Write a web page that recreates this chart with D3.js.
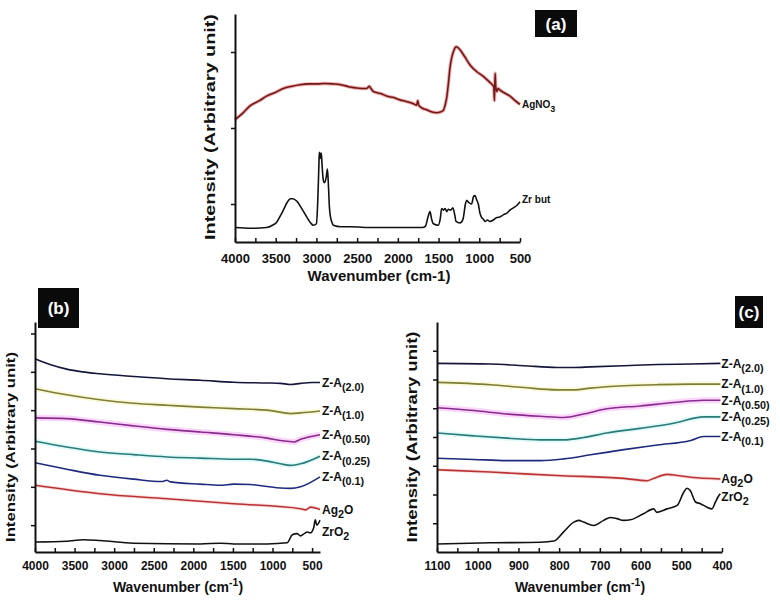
<!DOCTYPE html>
<html><head><meta charset="utf-8">
<script src="https://cdn.jsdelivr.net/npm/d3@7"></script>
<style>body{margin:0;background:#fff}svg{display:block}</style>
</head><body>
<svg id="c" width="780" height="600"></svg>
<script>
// ---------- Panel (a) data ----------
const aTickLabels = [4000, 3500, 3000, 2500, 2000, 1500, 1000, 500];
const aMinorTicks = [3750, 3250, 2750, 2250, 1750, 1250, 750];
const aYTicks = [0.5, 1.5, 2.5];
const aAgNO3 = [[4000,1.61],[3900,1.70],[3816,1.79],[3700,1.86],[3611,1.92],[3500,1.97],[3406,2.02],[3300,2.05],[3202,2.07],[3100,2.08],[2997,2.08],[2900,2.085],[2792,2.08],[2700,2.07],[2588,2.04],[2450,2.02],[2383,2.02],[2350,2.05],[2330,2.02],[2301,1.98],[2200,1.95],[2137,1.92],[2050,1.90],[1974,1.87],[1900,1.85],[1810,1.82],[1770,1.80],[1755,1.86],[1745,1.80],[1700,1.76],[1646,1.74],[1580,1.71],[1523,1.70],[1480,1.71],[1442,1.73],[1420,1.80],[1400,1.90],[1380,2.08],[1360,2.29],[1340,2.42],[1319,2.50],[1300,2.55],[1286,2.57],[1265,2.56],[1237,2.53],[1180,2.44],[1114,2.33],[1030,2.24],[950,2.18],[880,2.11],[840,2.07],[822,2.04],[814,1.86],[806,2.22],[798,2.05],[785,1.98],[770,2.02],[746,2.00],[690,1.96],[623,1.92],[560,1.86],[500,1.81]];
const aZrBut = [[4000,0.19],[3800,0.18],[3611,0.19],[3540,0.22],[3488,0.26],[3440,0.35],[3406,0.42],[3360,0.52],[3320,0.57],[3290,0.57],[3243,0.54],[3180,0.44],[3120,0.33],[3070,0.25],[3038,0.22],[3000,0.24],[2985,0.5],[2970,1.0],[2965,1.18],[2955,1.10],[2950,1.16],[2940,1.17],[2930,1.0],[2915,0.81],[2900,0.78],[2880,0.85],[2865,0.96],[2855,0.80],[2840,0.45],[2833,0.37],[2810,0.26],[2792,0.22],[2700,0.20],[2588,0.2],[2300,0.19],[1974,0.19],[1700,0.19],[1660,0.21],[1630,0.33],[1605,0.40],[1585,0.30],[1564,0.24],[1503,0.22],[1480,0.30],[1462,0.44],[1440,0.42],[1420,0.44],[1400,0.40],[1380,0.43],[1350,0.42],[1325,0.45],[1300,0.35],[1286,0.27],[1237,0.25],[1200,0.30],[1170,0.50],[1155,0.55],[1130,0.52],[1094,0.50],[1070,0.60],[1053,0.61],[1030,0.55],[1012,0.50],[992,0.38],[970,0.32],[950,0.30],[930,0.27],[900,0.29],[870,0.27],[827,0.29],[790,0.32],[746,0.33],[700,0.36],[660,0.38],[623,0.42],[580,0.45],[540,0.48],[500,0.53]];

// ---------- Panel (b) data ----------
const bTickLabels = [4000, 3500, 3000, 2500, 2000, 1500, 1000, 500];
const bMinorTicks = [3750, 3250, 2750, 2250, 1750, 1250, 750];
const bYTicks = [0.7, 1.7, 2.7, 3.7, 4.7, 5.7];
const bZA20 = [[4000,5.04],[3810,4.89],[3600,4.77],[3400,4.70],[3180,4.65],[2755,4.58],[2333,4.52],[1911,4.48],[1489,4.43],[1068,4.41],[900,4.40],[772,4.37],[646,4.40],[500,4.42],[400,4.42]];
const bZA10 = [[4000,4.26],[3600,4.10],[3180,3.97],[2755,3.88],[2333,3.83],[1911,3.78],[1489,3.74],[1068,3.70],[850,3.63],[772,3.61],[646,3.63],[400,3.68]];
const bZA050 = [[4000,3.50],[3600,3.48],[3180,3.39],[2755,3.29],[2333,3.20],[1911,3.13],[1489,3.06],[1068,2.97],[900,2.91],[814,2.89],[730,2.87],[646,2.94],[400,3.06]];
const bZA025 = [[4000,2.89],[3600,2.74],[3180,2.61],[2755,2.54],[2333,2.48],[1911,2.45],[1489,2.42],[1278,2.42],[1068,2.37],[900,2.30],[772,2.26],[646,2.30],[400,2.50]];
const bZA01 = [[4000,2.33],[3600,2.16],[3180,2.0],[2755,1.90],[2400,1.84],[2333,1.87],[2290,1.83],[1911,1.77],[1660,1.74],[1489,1.77],[1278,1.76],[1068,1.71],[900,1.67],[772,1.66],[646,1.70],[400,1.96]];
const bAg2O = [[4000,1.74],[3180,1.52],[2333,1.39],[1489,1.26],[646,1.13],[580,1.10],[520,1.17],[460,1.15],[400,1.11]];
const bZrO2 = [[4000,0.26],[3600,0.28],[3390,0.32],[3180,0.30],[2755,0.23],[1911,0.21],[1660,0.23],[1489,0.21],[1068,0.21],[815,0.24],[750,0.45],[690,0.48],[646,0.42],[600,0.48],[560,0.52],[520,0.50],[480,0.63],[460,0.84],[440,0.70],[400,0.83]];

// ---------- Panel (c) data ----------
const cTickLabels = [1100, 1000, 900, 800, 700, 600, 500, 400];
const cMinorTicks = [1050, 950, 850, 750, 650, 550, 450];
const cYTicks = [0.5, 1, 1.5, 2, 2.5, 3, 3.5];
const cZA20 = [[1100,3.28],[969,3.27],[887,3.24],[805,3.21],[764,3.21],[723,3.22],[641,3.24],[559,3.26],[477,3.27],[404,3.28]];
const cZA10 = [[1100,2.95],[969,2.91],[887,2.86],[805,2.82],[764,2.82],[723,2.85],[641,2.89],[559,2.91],[477,2.92],[404,2.92]];
const cZA050 = [[1100,2.51],[1010,2.46],[928,2.40],[846,2.36],[789,2.34],[740,2.40],[683,2.49],[601,2.54],[519,2.60],[445,2.64],[404,2.64]];
const cZA025 = [[1100,2.07],[1010,2.02],[928,1.98],[846,1.95],[789,1.95],[740,1.99],[683,2.07],[601,2.15],[519,2.24],[445,2.35],[404,2.35]];
const cZA01 = [[1100,1.63],[1010,1.61],[928,1.59],[846,1.59],[789,1.62],[723,1.69],[641,1.78],[559,1.86],[477,1.94],[445,2.01],[404,2.01]];
const cAg2O = [[1100,1.43],[969,1.39],[805,1.33],[641,1.28],[584,1.24],[568,1.28],[535,1.35],[510,1.33],[477,1.30],[404,1.27]];
const cZrO2 = [[1100,0.14],[969,0.16],[846,0.17],[813,0.19],[789,0.35],[764,0.52],[752,0.55],[740,0.52],[715,0.46],[691,0.55],[674,0.60],[658,0.58],[642,0.55],[625,0.56],[592,0.67],[568,0.75],[560,0.69],[535,0.75],[510,0.81],[494,1.04],[486,1.11],[478,1.07],[465,0.87],[453,0.84],[437,0.78],[425,0.75],[416,0.87],[408,0.98],[404,1.01]];

// ---------- drawing ----------
const FONT = "'Liberation Sans', Arial, sans-serif";
const svg = d3.select("#c");
svg.append("rect").attr("width", 780).attr("height", 600).attr("fill", "#fff");

const STY = {
  agno3: {stroke: "#6e1a1a", glow: "#e03c3c", gw: 3.5, go: 0.45},
  zrbut: {stroke: "#111", glow: null},
  za20: {stroke: "#16163a", glow: null},
  za10: {stroke: "#7d7d38", glow: "#f2f0a0", gw: 5, go: 0.4},
  za050: {stroke: "#8a2a8e", glow: "#f28cf2", gw: 6, go: 0.35},
  za025: {stroke: "#2c7a78", glow: "#a8f2f0", gw: 5, go: 0.35},
  za01: {stroke: "#1e2a7c", glow: null},
  ag2o: {stroke: "#b83434", glow: "#f39090", gw: 3.5, go: 0.3},
  zro2: {stroke: "#111", glow: null}
};

function panel(cfg) {
  const x = d3.scaleLinear().domain(cfg.xDomain).range([cfg.left, cfg.right]);
  const y = d3.scaleLinear().domain(cfg.yDomain).range([cfg.bottom, cfg.top]);
  const g = svg.append("g");

  const line = d3.line().x(d => x(d[0])).y(d => y(d[1])).curve(d3.curveMonotoneX);
  cfg.series.forEach(s => {
    const st = STY[s.key];
    if (st.glow) {
      g.append("path").datum(s.data).attr("d", line).attr("fill", "none")
        .attr("stroke", st.glow).attr("stroke-width", st.gw).attr("stroke-opacity", st.go)
        .attr("stroke-linejoin", "round");
    }
    g.append("path").datum(s.data).attr("d", line).attr("fill", "none")
      .attr("stroke", st.stroke).attr("stroke-width", 1.6).attr("stroke-linejoin", "round");
    const last = s.data[s.data.length - 1];
    const t = g.append("text").attr("x", x(last[0]) + (cfg.labelGap || 1))
      .attr("y", y(last[1]) + (s.dy || 0) + cfg.labelSize * 0.36)
      .attr("font-family", FONT).attr("font-weight", "bold")
      .attr("font-size", cfg.labelSize).attr("fill", "#111");
    let shift = 0;
    s.label.forEach(p => {
      const target = p.sub ? cfg.labelSize * 0.35 : 0;
      const ts = t.append("tspan").attr("dy", target - shift).text(p.sub || p.t);
      if (p.sub) ts.attr("font-size", cfg.labelSize * 0.9);
      shift = target;
    });
  });

  // x axis
  const gx = g.append("g").attr("transform", `translate(0,${cfg.bottom})`)
    .call(d3.axisBottom(x).tickValues(cfg.xLabels.concat(cfg.xMinor))
      .tickFormat(d => String(d)).tickSizeInner(-4).tickSizeOuter(0).tickPadding(0));
  gx.select(".domain").attr("stroke", "#111").attr("stroke-width", 2);
  gx.selectAll(".tick line").attr("stroke", "#111").attr("stroke-width", 1.5);
  gx.selectAll(".tick text").filter(d => !cfg.xLabels.includes(d)).remove();
  gx.selectAll(".tick text").attr("y", cfg.tickLabelY).attr("dy", 0)
    .attr("font-family", FONT).attr("font-weight", "bold")
    .attr("font-size", cfg.tickSize).attr("fill", "#111");

  // y axis (no labels)
  const gy = g.append("g").attr("transform", `translate(${cfg.left},0)`)
    .call(d3.axisLeft(y).tickValues(cfg.yTicks).tickSizeInner(4).tickSizeOuter(0));
  gy.selectAll(".tick text").remove();
  gy.select(".domain").attr("stroke", "#111").attr("stroke-width", 2);
  gy.selectAll(".tick line").attr("stroke", "#111").attr("stroke-width", 1.5);

  // titles
  g.append("text").attr("transform", `translate(${cfg.yTitle.x},${cfg.yTitle.y}) rotate(-90)`)
    .attr("text-anchor", "middle").attr("font-family", FONT).attr("font-weight", "bold")
    .attr("font-size", cfg.yTitle.size).attr("fill", "#111")
    .attr("textLength", cfg.yTitle.len).attr("lengthAdjust", "spacingAndGlyphs")
    .text("Intensity (Arbitrary unit)");
  const xt = g.append("text").attr("x", cfg.xTitle.x).attr("y", cfg.xTitle.y)
    .attr("text-anchor", "middle").attr("font-family", FONT).attr("font-weight", "bold")
    .attr("font-size", cfg.xTitle.size).attr("fill", "#111");
  if (cfg.xTitle.sup) {
    xt.append("tspan").text("Wavenumber (cm");
    xt.append("tspan").attr("dy", -cfg.xTitle.size * 0.45).attr("font-size", cfg.xTitle.size * 0.75).text("-1");
    xt.append("tspan").attr("dy", cfg.xTitle.size * 0.45).text(")");
  } else {
    xt.text("Wavenumber (cm-1)");
  }

  // panel tag
  const b = cfg.tag;
  g.append("rect").attr("x", b.x).attr("y", b.y).attr("width", b.w).attr("height", b.h).attr("fill", "#0a0a0a");
  g.append("text").attr("x", b.x + b.w / 2).attr("y", b.y + b.h / 2 + 6)
    .attr("text-anchor", "middle").attr("font-family", FONT).attr("font-weight", "bold")
    .attr("font-size", 17).attr("fill", "#fff").text(b.text);
}

const zaLabel = s => [{t: "Z-A"}, {sub: s}];

panel({
  xDomain: [4000, 500], yDomain: [0, 3], left: 235, right: 520, top: 14, bottom: 242,
  xLabels: aTickLabels, xMinor: aMinorTicks, yTicks: aYTicks, tickSize: 13, tickLabelY: 21,
  labelSize: 10, labelGap: 2,
  series: [
    {key: "agno3", data: aAgNO3, label: [{t: "AgNO"}, {sub: "3"}]},
    {key: "zrbut", data: aZrBut, label: [{t: "Zr but"}], dy: -2}
  ],
  yTitle: {x: 215, y: 127, size: 15, len: 226},
  xTitle: {x: 379, y: 281, size: 15, sup: false},
  tag: {x: 535, y: 10, w: 42, h: 27, text: "(a)"}
});

panel({
  xDomain: [4000, 400], yDomain: [0, 6], left: 35, right: 320, top: 322, bottom: 552,
  xLabels: bTickLabels, xMinor: bMinorTicks, yTicks: bYTicks, tickSize: 12, tickLabelY: 18,
  labelSize: 12, labelGap: 2,
  series: [
    {key: "za20", data: bZA20, label: zaLabel("(2.0)")},
    {key: "za10", data: bZA10, label: zaLabel("(1.0)")},
    {key: "za050", data: bZA050, label: zaLabel("(0.50)")},
    {key: "za025", data: bZA025, label: zaLabel("(0.25)")},
    {key: "za01", data: bZA01, label: zaLabel("(0.1)")},
    {key: "ag2o", data: bAg2O, label: [{t: "Ag"}, {sub: "2"}, {t: "O"}]},
    {key: "zro2", data: bZrO2, label: [{t: "ZrO"}, {sub: "2"}], dy: 11}
  ],
  yTitle: {x: 15, y: 447, size: 13, len: 190},
  xTitle: {x: 178, y: 592, size: 14, sup: true},
  tag: {x: 38, y: 288, w: 41, h: 40, text: "(b)"}
});

panel({
  xDomain: [1100, 400], yDomain: [0, 4], left: 437, right: 722, top: 322, bottom: 552,
  xLabels: cTickLabels, xMinor: cMinorTicks, yTicks: cYTicks, tickSize: 12, tickLabelY: 18,
  labelSize: 12, labelGap: 1,
  series: [
    {key: "za20", data: cZA20, label: zaLabel("(2.0)")},
    {key: "za10", data: cZA10, label: zaLabel("(1.0)")},
    {key: "za050", data: cZA050, label: zaLabel("(0.50)")},
    {key: "za025", data: cZA025, label: zaLabel("(0.25)")},
    {key: "za01", data: cZA01, label: zaLabel("(0.1)")},
    {key: "ag2o", data: cAg2O, label: [{t: "Ag"}, {sub: "2"}, {t: "O"}]},
    {key: "zro2", data: cZrO2, label: [{t: "ZrO"}, {sub: "2"}], dy: 3}
  ],
  yTitle: {x: 417, y: 437, size: 14, len: 211},
  xTitle: {x: 580, y: 592, size: 14, sup: true},
  tag: {x: 735, y: 296, w: 28, h: 32, text: "(c)"}
});
</script>
</body></html>
